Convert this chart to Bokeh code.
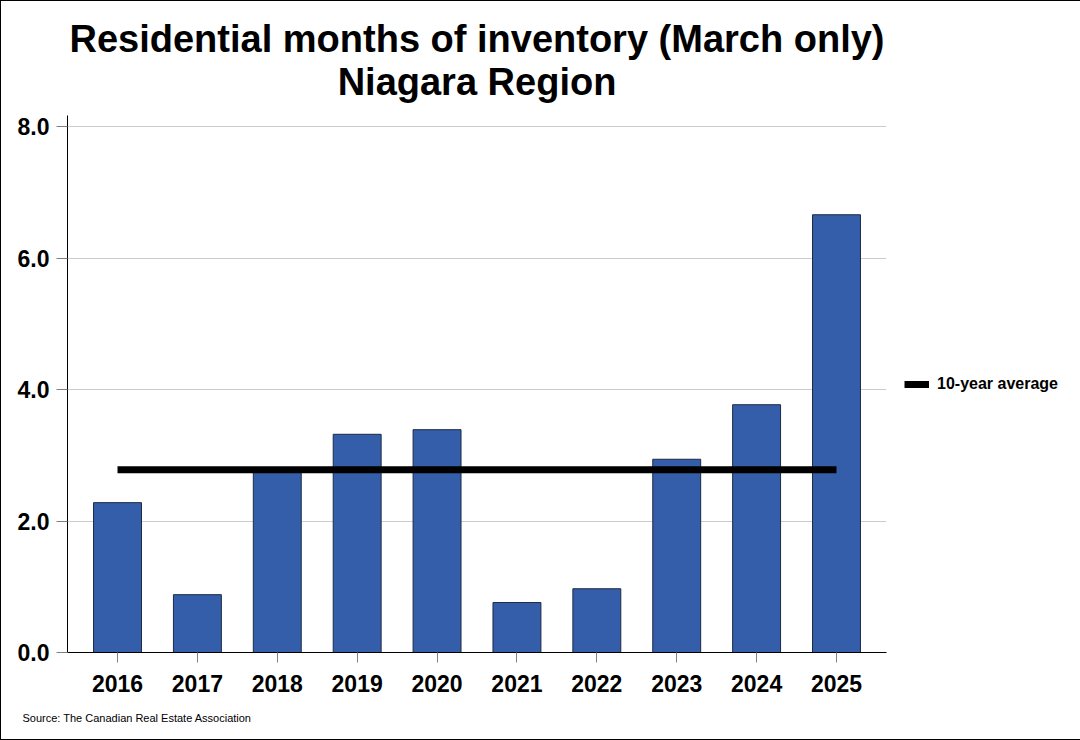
from bokeh.plotting import figure
from bokeh.models import (FixedTicker, NumeralTickFormatter, Legend, LegendItem,
                          Title, ColumnDataSource, Range1d)
from bokeh.embed import file_html
from bokeh.resources import INLINE

# ---- data ----
years = [2016, 2017, 2018, 2019, 2020, 2021, 2022, 2023, 2024, 2025]
months_inventory = [2.28, 0.88, 2.74, 3.32, 3.39, 0.76, 0.97, 2.94, 3.77, 6.66]
ten_year_average = 2.78
y_ticks = [0, 2, 4, 6, 8]
title_lines = ["Residential months of inventory (March only)", "Niagara Region"]
legend_label = "10-year average"
source_text = "Source: The Canadian Real Estate Association"

FONT = "Liberation Sans"

p = figure(width=1078, height=738, frame_width=819, frame_height=537,
           output_backend="svg", toolbar_location=None,
           x_range=Range1d(2015.374, 2025.626), y_range=Range1d(0, 8.17),
           min_border_left=66, min_border_right=193, min_border_top=114,
           min_border_bottom=87, background_fill_color="white",
           border_fill_color="white")
p.outline_line_color = None
p.styles = {"border": "1px solid black"}
p.title = None

# two centred title lines (first added sits closest to the frame)
p.add_layout(Title(text=title_lines[1], align="center", text_font=FONT,
                   text_font_size="38px", text_font_style="bold",
                   text_color="black", standoff=26), "above")
p.add_layout(Title(text=title_lines[0], align="center", text_font=FONT,
                   text_font_size="38px", text_font_style="bold",
                   text_color="black", standoff=-28), "above")

# bars
src = ColumnDataSource(dict(x=years, top=months_inventory))
p.vbar(x="x", top="top", bottom=0, width=0.6, source=src,
       fill_color="#345EA9", line_color="#1E2A44", line_width=1)

# average line
avg_src = ColumnDataSource(dict(x=[years[0], years[-1]],
                                y=[ten_year_average, ten_year_average]))
avg_line = p.line(x="x", y="y", source=avg_src, line_color="black",
                  line_width=7, line_cap="butt")

# axes
p.xaxis.ticker = FixedTicker(ticks=years)
p.xaxis.major_tick_out = 10
p.xaxis.major_tick_in = 0
p.xaxis.minor_tick_line_color = None
p.xaxis.major_tick_line_color = "#808080"
p.xaxis.axis_line_color = "black"
p.xaxis.major_label_text_font = FONT
p.xaxis.major_label_text_font_size = "23px"
p.xaxis.major_label_text_font_style = "bold"
p.xaxis.major_label_text_color = "black"
p.xaxis.major_label_standoff = 12

p.yaxis.ticker = FixedTicker(ticks=y_ticks)
p.yaxis.formatter = NumeralTickFormatter(format="0.0")
p.yaxis.major_tick_out = 11
p.yaxis.major_tick_in = 0
p.yaxis.minor_tick_line_color = None
p.yaxis.major_tick_line_color = "#808080"
p.yaxis.axis_line_color = "black"
p.yaxis.major_label_text_font = FONT
p.yaxis.major_label_text_font_size = "23px"
p.yaxis.major_label_text_font_style = "bold"
p.yaxis.major_label_text_color = "black"
p.yaxis.major_label_standoff = 7

p.xgrid.grid_line_color = None
p.ygrid.grid_line_color = "#CCCCCC"
p.ygrid.grid_line_width = 1

# legend in the right-hand panel
legend = Legend(items=[LegendItem(label=legend_label, renderers=[avg_line])],
                location="center_left", border_line_color=None,
                background_fill_alpha=0, glyph_width=25, glyph_height=20,
                label_standoff=8, label_text_font=FONT,
                label_text_font_size="16px", label_text_font_style="bold",
                label_text_color="black", margin=18, padding=9)
p.add_layout(legend, "right")

# source note
p.add_layout(Title(text=source_text, align="left", text_font=FONT,
                   text_font_size="11px", text_font_style="normal",
                   text_color="black", offset=-45, standoff=30), "below")

open("out.html", "w").write(file_html(p, INLINE))
